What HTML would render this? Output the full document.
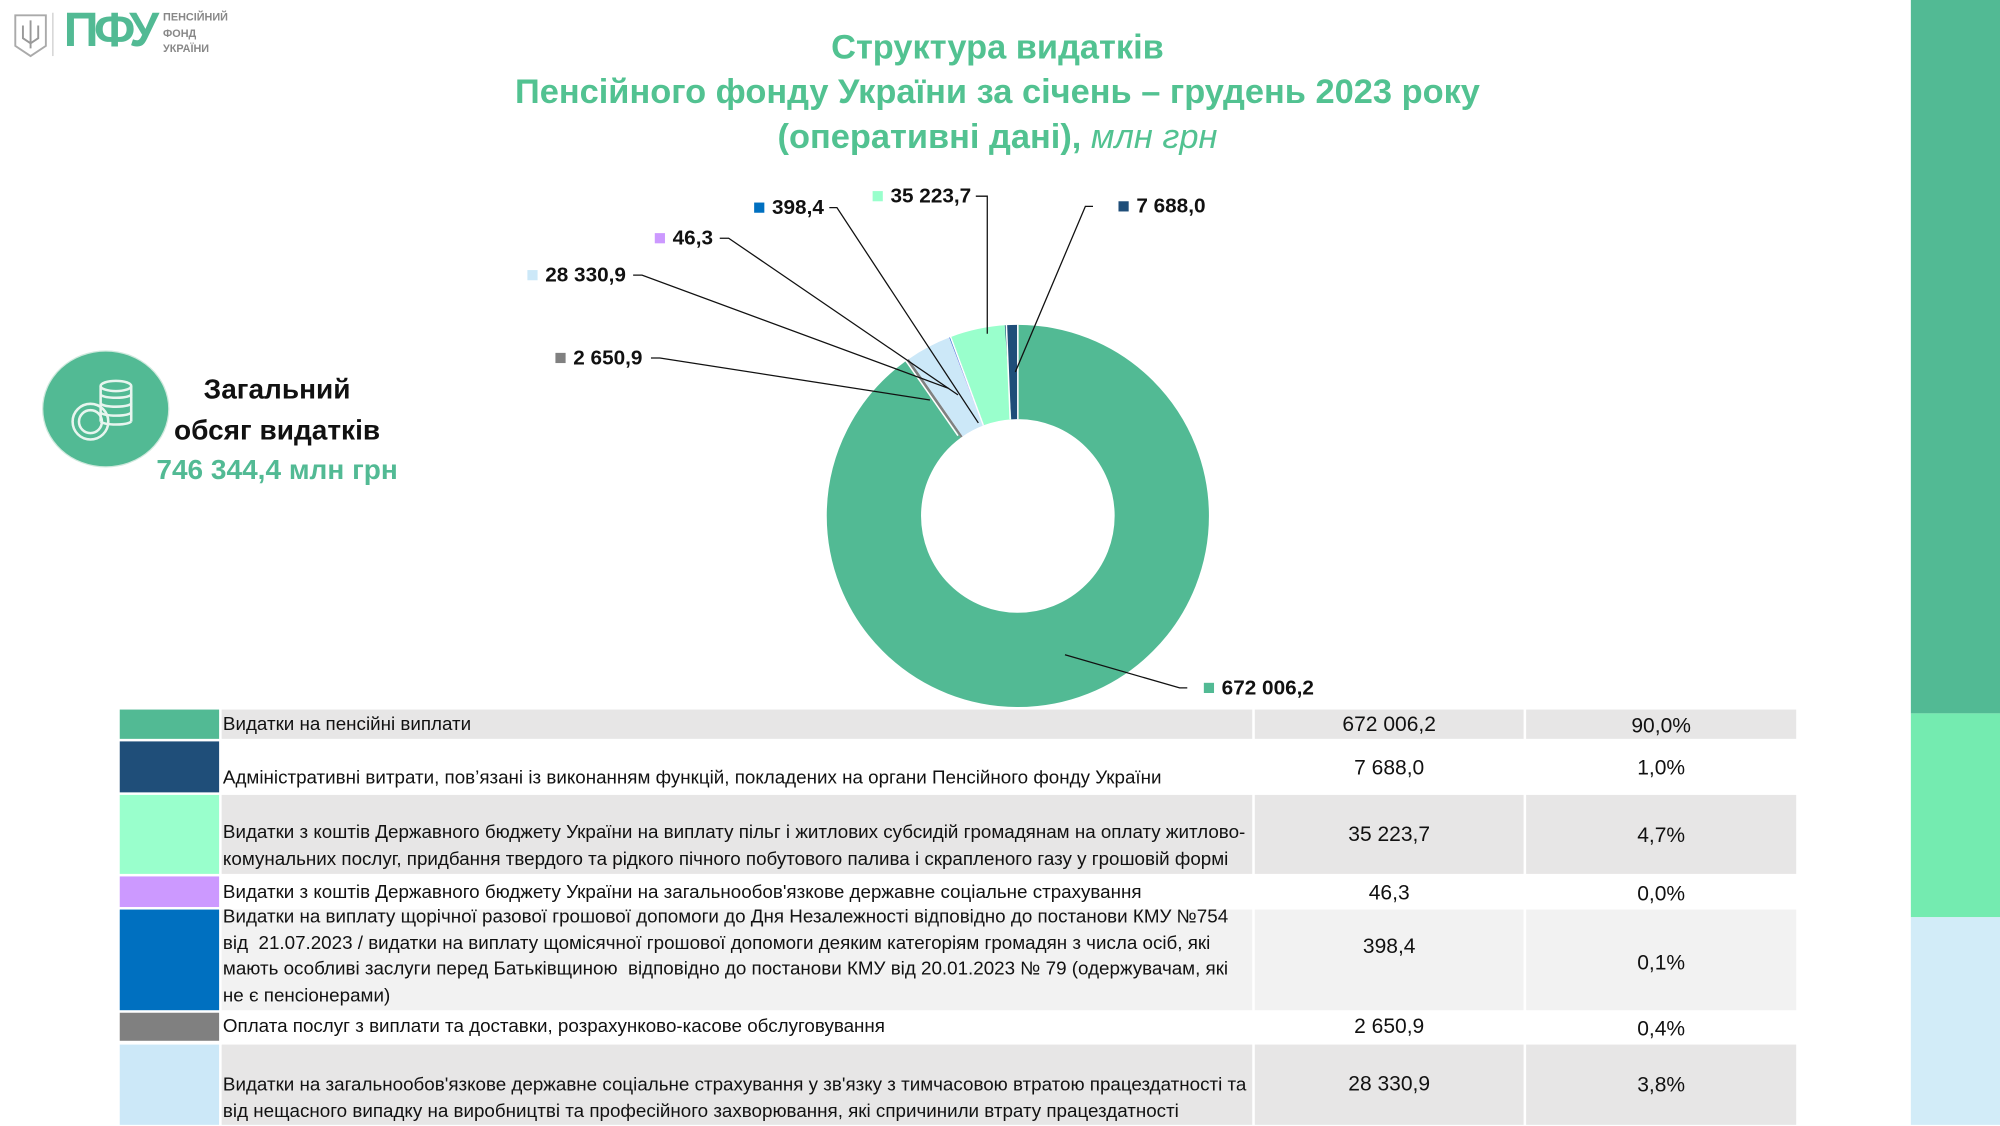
<!DOCTYPE html>
<html><head><meta charset="utf-8">
<style>
html,body{margin:0;padding:0;background:#fff;overflow:hidden}
#root{position:absolute;left:0;top:0;width:1570px;height:883px;transform:scale(1.2739);transform-origin:0 0;font-family:"Liberation Sans",Arial,sans-serif;}
.abs{position:absolute}
.title{position:absolute;left:383px;width:800px;text-align:center;color:#52C291;font-weight:bold;font-size:27px;line-height:35px;top:20px}
.lbl{position:absolute;font-weight:bold;font-size:16.3px;color:#111;white-space:nowrap}
.sq{display:inline-block;width:8px;height:8px;margin-right:6px;vertical-align:1px}
.row{position:absolute;left:94px;width:1316px}
.c{position:absolute;top:0;bottom:0}
.col{left:0;width:78px}
.desc{left:80px;width:809px;font-size:14.75px;color:#111;line-height:20.5px;display:flex;align-items:flex-end;padding-left:0;white-space:nowrap}
.desc span{padding-left:1px;padding-bottom:1px}
.val{left:891px;width:211px;text-align:center;font-size:16.5px;color:#111}
.pct{left:1104px;width:212px;text-align:center;font-size:16.5px;color:#111}
.g .desc,.g .val,.g .pct{background:#E7E6E6}
.l .desc,.l .val,.l .pct{background:#F2F2F2}
</style></head><body>
<div id="root">
<div class="abs" style="left:1500px;top:0;width:70px;height:560px;background:#52BA94"></div>
<div class="abs" style="left:1500px;top:560px;width:70px;height:160px;background:#74EBB0"></div>
<div class="abs" style="left:1500px;top:720px;width:70px;height:163px;background:#D2ECF8"></div>
<svg class="abs" style="left:8px;top:10px" width="36" height="36" viewBox="0 0 36 36"><path d="M4 2h24v24l-12 8-12-8z" fill="none" stroke="#aaa" stroke-width="1.5"/><path d="M16 6v22M10 10v10l6 4 6-4V10" fill="none" stroke="#999" stroke-width="1.5"/></svg>
<div class="abs" style="left:41px;top:10px;width:1px;height:34px;background:#ccc"></div>
<div class="abs" style="left:50px;top:3px;font-weight:bold;font-size:38px;color:#52BA94;letter-spacing:-3.5px">ПФУ</div>
<div class="abs" style="left:128px;top:7px;font-weight:bold;font-size:8.5px;line-height:12.5px;color:#888">ПЕНСІЙНИЙ<br>ФОНД<br>УКРАЇНИ</div>
<div class="title">Структура видатків<br>Пенсійного фонду України за січень – грудень 2023 року<br>(оперативні дані), <i style="font-weight:normal">млн грн</i></div>
<div class="abs" style="left:34px;top:276px;width:98px;height:90px;border-radius:50%;background:#52BA94;box-shadow:0 0 0 1px #cfe9dd"></div>
<svg class="abs" style="left:34px;top:276px" width="100" height="90" viewBox="0 0 100 90" fill="none" stroke="#e8f5ef" stroke-width="2"><ellipse cx="57" cy="27" rx="12" ry="4"/><path d="M45 27v28M69 27v28M45 34c4 3 20 3 24 0M45 41c4 3 20 3 24 0M45 48c4 3 20 3 24 0M45 55c4 3 20 3 24 0"/><circle cx="37" cy="55" r="14"/><circle cx="37" cy="55" r="9"/></svg>
<div class="abs" style="left:110px;top:290px;width:215px;text-align:center;font-weight:bold;font-size:22px;line-height:31.5px;color:#111">Загальний<br>обсяг видатків<br><span style="color:#52BA94">746 344,4 млн грн</span></div>
<svg class="abs" style="left:0;top:0" width="1570" height="883">
<g transform="rotate(-90 799 405)" fill="none" stroke-width="74">
<circle cx="799" cy="405" r="113" pathLength="360" stroke="#52BA94" stroke-dasharray="324.14 400" stroke-dashoffset="0"/>
<circle cx="799" cy="405" r="113" pathLength="360" stroke="#808080" stroke-dasharray="1.28 400" stroke-dashoffset="-324.14"/>
<circle cx="799" cy="405" r="113" pathLength="360" stroke="#CCE8F8" stroke-dasharray="13.66 400" stroke-dashoffset="-325.42"/>
<circle cx="799" cy="405" r="113" pathLength="360" stroke="#CC99FF" stroke-dasharray="0.3 400" stroke-dashoffset="-339.08"/>
<circle cx="799" cy="405" r="113" pathLength="360" stroke="#0070C0" stroke-dasharray="0.6 400" stroke-dashoffset="-339.2"/>
<circle cx="799" cy="405" r="113" pathLength="360" stroke="#99FFCC" stroke-dasharray="16.99 400" stroke-dashoffset="-339.8"/>
<circle cx="799" cy="405" r="113" pathLength="360" stroke="#1F4E79" stroke-dasharray="3.71 400" stroke-dashoffset="-356.29"/>
</g>
<g stroke="#fff" stroke-width="1.2">
<line x1="799" y1="255" x2="799" y2="329"/>
<line x1="752" y1="342" x2="711" y2="283"/>
<line x1="772" y1="334" x2="746" y2="264"/>
<line x1="793" y1="329" x2="790" y2="255"/>
</g>
<g stroke="#111" stroke-width="1" fill="none">
<polyline points="858,162 852,162 797,292"/>
<polyline points="766,154 775,154 775,262"/>
<polyline points="651,163 657,163 768,332"/>
<polyline points="565,187 572,187 752,310"/>
<polyline points="497,216 504,216 745,305"/>
<polyline points="511,281 518,281 730,314"/>
<polyline points="932,540 926,540 836,514"/>
</g>
</svg>
<div class="lbl" style="left:878px;top:153px"><span class="sq" style="background:#1F4E79"></span>7 688,0</div>
<div class="lbl" style="left:685px;top:145px"><span class="sq" style="background:#99FFCC"></span>35 223,7</div>
<div class="lbl" style="left:592px;top:154px"><span class="sq" style="background:#0070C0"></span>398,4</div>
<div class="lbl" style="left:514px;top:178px"><span class="sq" style="background:#CC99FF"></span>46,3</div>
<div class="lbl" style="left:414px;top:207px"><span class="sq" style="background:#CCE8F8"></span>28 330,9</div>
<div class="lbl" style="left:436px;top:272px"><span class="sq" style="background:#808080"></span>2 650,9</div>
<div class="lbl" style="left:945px;top:531px"><span class="sq" style="background:#52BA94"></span>672 006,2</div>
<div class="row g" style="top:557px;height:23px"><div class="c col" style="background:#52BA94"></div><div class="c desc"><span>Видатки на пенсійні виплати</span></div><div class="c val" style="line-height:24px">672 006,2</div><div class="c pct" style="line-height:26px">90,0%</div></div>
<div class="row" style="top:582px;height:40px"><div class="c col" style="background:#1F4E79"></div><div class="c desc"><span>Адміністративні витрати, пов’язані із виконанням функцій, покладених на органи Пенсійного фонду України</span></div><div class="c val" style="line-height:43px">7 688,0</div><div class="c pct" style="line-height:43px">1,0%</div></div>
<div class="row g" style="top:624px;height:62px"><div class="c col" style="background:#99FFCC"></div><div class="c desc"><span>Видатки з коштів Державного бюджету України на виплату пільг і житлових субсидій громадянам на оплату житлово-<br>комунальних послуг, придбання твердого та рідкого пічного побутового палива і скрапленого газу у грошовій формі</span></div><div class="c val" style="line-height:62px">35 223,7</div><div class="c pct" style="line-height:64px">4,7%</div></div>
<div class="row" style="top:688px;height:24px"><div class="c col" style="background:#CC99FF"></div><div class="c desc"><span>Видатки з коштів Державного бюджету України на загальнообов'язкове державне соціальне страхування</span></div><div class="c val" style="line-height:26px">46,3</div><div class="c pct" style="line-height:28px">0,0%</div></div>
<div class="row l" style="top:714px;height:79px"><div class="c col" style="background:#0070C0"></div><div class="c desc"><span>Видатки на виплату щорічної разової грошової допомоги до Дня Незалежності відповідно до постанови КМУ №754<br>від&nbsp; 21.07.2023 / видатки на виплату щомісячної грошової допомоги деяким категоріям громадян з числа осіб, які<br>мають особливі заслуги перед Батьківщиною&nbsp; відповідно до постанови КМУ від 20.01.2023 № 79 (одержувачам, які<br>не є пенсіонерами)</span></div><div class="c val" style="line-height:58px">398,4</div><div class="c pct" style="line-height:84px">0,1%</div></div>
<div class="row" style="top:795px;height:22px"><div class="c col" style="background:#808080"></div><div class="c desc"><span>Оплата послуг з виплати та доставки, розрахунково-касове обслуговування</span></div><div class="c val" style="line-height:22px">2 650,9</div><div class="c pct" style="line-height:26px">0,4%</div></div>
<div class="row g" style="top:820px;height:63px"><div class="c col" style="background:#CCE8F8"></div><div class="c desc" style="align-items:flex-start;padding-top:22px;box-sizing:border-box"><span>Видатки на загальнообов'язкове державне соціальне страхування у зв'язку з тимчасовою втратою працездатності та<br>від нещасного випадку на виробництві та професійного захворювання, які спричинили втрату працездатності</span></div><div class="c val" style="line-height:62px">28 330,9</div><div class="c pct" style="line-height:64px">3,8%</div></div>
</div>
</body></html>
